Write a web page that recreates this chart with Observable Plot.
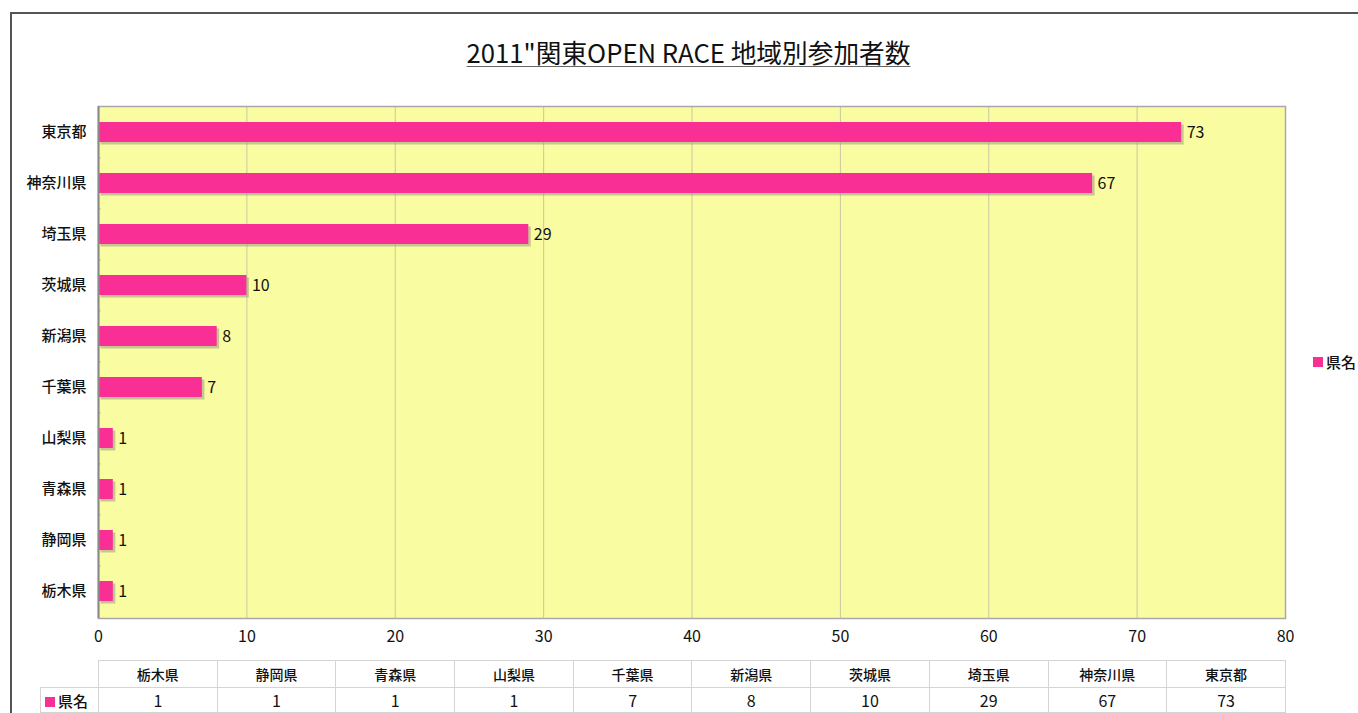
<!DOCTYPE html>
<html>
<head>
<meta charset="utf-8">
<script src="https://cdn.jsdelivr.net/npm/d3@7"></script>
<script src="https://cdn.jsdelivr.net/npm/@observablehq/plot@0.6"></script>
<style>
  html, body { margin: 0; padding: 0; background: #fff; overflow: hidden; }
  #wrap { position: relative; width: 1358px; height: 713px; overflow: hidden; font-family: "Noto Sans CJK JP", "Noto Sans", sans-serif; }
  #border { position: absolute; left: 10px; top: 12px; width: 1400px; height: 800px; border: 2px solid #555; box-sizing: border-box; }
  #title { position: absolute; left: 0; width: 1377px; top: 33px; text-align: center; font-size: 25.7px; color: #111; }
  #title span { text-decoration: underline; text-decoration-color: #666; text-underline-offset: 3px; text-decoration-thickness: 1px; }
  #chart { position: absolute; left: 0; top: 0; }
  #legend { position: absolute; left: 1313px; top: 351px; font-size: 15px; font-weight: 500; color: #111; display: flex; align-items: center; }
  #legend i { display: inline-block; width: 10px; height: 10px; background: #F92F96; margin-right: 3px; }
  table { position: absolute; left: 40px; top: 660px; border-collapse: collapse; font-size: 14px; color: #111; }
  td { border: 1px solid #d4d4d4; text-align: center; padding: 0; height: 26px; width: 117.7px; }
  tr.vals td { height: 21px; font-family: "Liberation Sans Narrow", "Noto Sans CJK JP", sans-serif; font-size: 16px; }
  td.blank { border: none; width: 57px; }
  tr.vals td.key { width: 57px; text-align: left; font-weight: 500; font-size: 15px; font-family: "Noto Sans CJK JP", sans-serif; }
  td.key i { display: inline-block; width: 10px; height: 10px; background: #F92F96; margin: 0 3px 0 4px; }
  tr.head td { font-weight: 500; }
</style>
</head>
<body>
<div id="wrap">
  <div id="border"></div>
  <div id="chart"></div>
  <div id="title"><span>2011"関東OPEN RACE 地域別参加者数</span></div>
  <div id="legend"><i></i>県名</div>
  <table id="tbl"></table>
</div>
<script>
const prefectures = ["東京都", "神奈川県", "埼玉県", "茨城県", "新潟県", "千葉県", "山梨県", "青森県", "静岡県", "栃木県"];
const counts = [73, 67, 29, 10, 8, 7, 1, 1, 1, 1];
const xTicks = [0, 10, 20, 30, 40, 50, 60, 70, 80];
const seriesName = "県名";

const data = prefectures.map((p, i) => ({pref: p, count: counts[i]}));
const pink = "#F92F96";
const numFont = "'Liberation Sans Narrow', 'Noto Sans CJK JP', sans-serif";

const chart = Plot.plot({
  width: 1358,
  height: 650,
  marginLeft: 98,
  marginRight: 73,
  marginTop: 106,
  marginBottom: 32,
  style: {fontFamily: "'Noto Sans CJK JP', sans-serif", background: "transparent", color: "#111"},
  x: {domain: [0, 80], ticks: xTicks, label: null},
  y: {domain: prefectures, paddingInner: 0.6, paddingOuter: 0.3, label: null},
  marks: [
    Plot.frame({fill: "#FAFCA2", stroke: null}),
    Plot.ruleX(xTicks.slice(1, -1), {stroke: "#c8c8a0", strokeWidth: 1}),
    Plot.ruleY(prefectures.slice(1), {y: d => d, x1: 0, x2: 0.2, dy: -25.6, stroke: "#c4c4a8"}),
    Plot.barX(data, {y: "pref", x: "count", fill: "#9a9a80", fillOpacity: 0.55, dx: 2.5, dy: 2.5}),
    Plot.barX(data, {y: "pref", x: "count", fill: pink}),
    Plot.text(data, {y: "pref", x: "count", text: d => String(d.count), textAnchor: "start", dx: 5, fontSize: 16, fontFamily: numFont, fill: "#111"}),
    Plot.frame({stroke: "#a8a8a8", strokeWidth: 1.5}),
    Plot.ruleX([0], {stroke: "#8a8a8a", strokeWidth: 2}),
    Plot.axisX({ticks: xTicks, tickSize: 0, tickPadding: 12, fontSize: 16, fontFamily: numFont, label: null}),
    Plot.axisY({tickSize: 0, tickPadding: 12, fontSize: 15, fontWeight: 500, label: null})
  ]
});
document.getElementById("chart").appendChild(chart);

const order = prefectures.slice().reverse();
const ordCounts = counts.slice().reverse();
const tbl = document.getElementById("tbl");
let h = '<tr class="head"><td class="blank"></td>' + order.map(p => `<td>${p}</td>`).join("") + '</tr>';
h += `<tr class="vals"><td class="key"><i></i>${seriesName}</td>` + ordCounts.map(c => `<td>${c}</td>`).join("") + '</tr>';
tbl.innerHTML = h;
</script>
</body>
</html>
